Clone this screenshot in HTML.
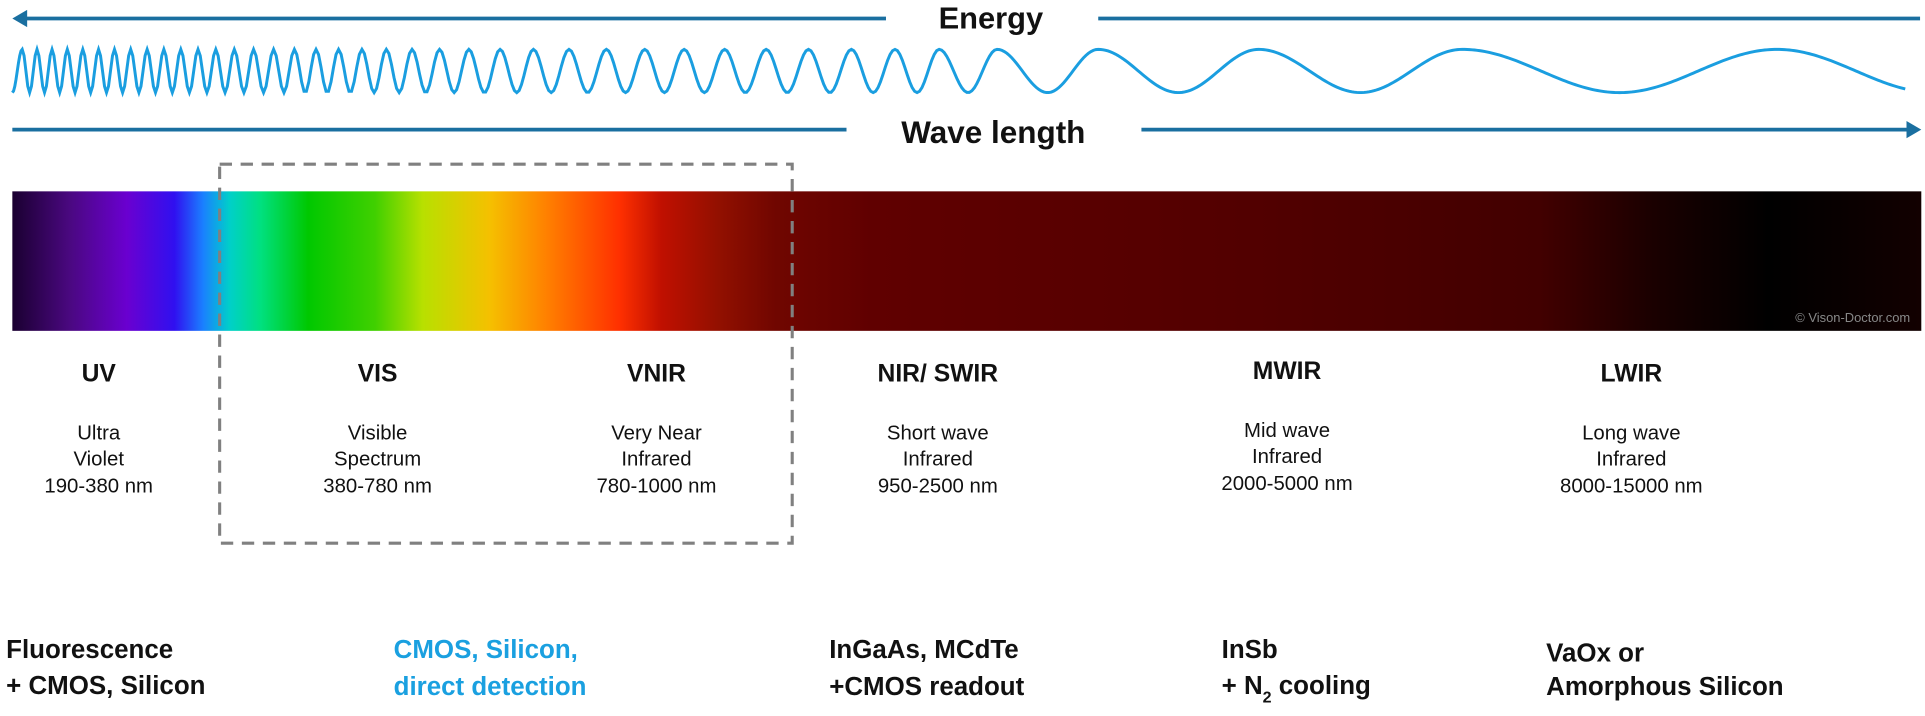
<!DOCTYPE html>
<html><head><meta charset="utf-8">
<style>
html,body{margin:0;padding:0;background:#fff;}
svg{display:block;}
text{font-family:"Liberation Sans",sans-serif;}
.h{font-weight:bold;font-size:20px;fill:#111;text-anchor:middle;}
.s{font-size:16.5px;fill:#111;text-anchor:middle;}
.b{font-weight:bold;font-size:21px;fill:#111;}
</style></head><body>
<svg width="1925" height="716" viewBox="0 0 1560 580" preserveAspectRatio="none" xmlns="http://www.w3.org/2000/svg">
<defs>
<linearGradient id="sp" x1="10" x2="1557" y1="0" y2="0" gradientUnits="userSpaceOnUse">
<stop offset="0" stop-color="#1a0030"/>
<stop offset="0.03" stop-color="#4a0880"/>
<stop offset="0.06" stop-color="#6a00d0"/>
<stop offset="0.085" stop-color="#3010f0"/>
<stop offset="0.1" stop-color="#1a80ff"/>
<stop offset="0.114" stop-color="#00d0c8"/>
<stop offset="0.13" stop-color="#00e080"/>
<stop offset="0.155" stop-color="#00c800"/>
<stop offset="0.19" stop-color="#40d000"/>
<stop offset="0.215" stop-color="#b8e000"/>
<stop offset="0.25" stop-color="#f5c000"/>
<stop offset="0.28" stop-color="#ff8000"/>
<stop offset="0.318" stop-color="#ff3000"/>
<stop offset="0.34" stop-color="#c01000"/>
<stop offset="0.37" stop-color="#921000"/>
<stop offset="0.4" stop-color="#700600"/>
<stop offset="0.45" stop-color="#600000"/>
<stop offset="0.65" stop-color="#520000"/>
<stop offset="0.8" stop-color="#420000"/>
<stop offset="0.86" stop-color="#1a0000"/>
<stop offset="0.92" stop-color="#000000"/>
<stop offset="1" stop-color="#120000"/>
</linearGradient>
</defs>
<line x1="18" y1="15" x2="718" y2="15" stroke="#1a6fa0" stroke-width="3"/>
<line x1="890" y1="15" x2="1556" y2="15" stroke="#1a6fa0" stroke-width="3"/>
<polygon points="10,15 22,8 22,22" fill="#1a6fa0"/>
<text x="803" y="23" font-weight="bold" font-size="25" text-anchor="middle" fill="#111">Energy</text>
<path id="wave" d="" fill="none" stroke="#1a9ee0" stroke-width="2.4"/>
<line x1="10" y1="105" x2="686" y2="105" stroke="#1a6fa0" stroke-width="3"/>
<line x1="925" y1="105" x2="1548" y2="105" stroke="#1a6fa0" stroke-width="3"/>
<polygon points="1557,105 1545,98 1545,112" fill="#1a6fa0"/>
<text x="805" y="116" font-weight="bold" font-size="25.5" text-anchor="middle" fill="#111">Wave length</text>
<rect x="10" y="155" width="1547" height="113" fill="url(#sp)"/>
<text x="1548" y="261" font-size="10.5" fill="#888" text-anchor="end">© Vison-Doctor.com</text>
<rect x="178" y="133" width="464" height="307" fill="none" stroke="#808080" stroke-width="2.5" stroke-dasharray="10 7"/>
<text class="h" x="80" y="309">UV</text>
<text class="s" x="80" y="356">Ultra</text><text class="s" x="80" y="377">Violet</text><text class="s" x="80" y="399">190-380 nm</text>
<text class="h" x="306" y="309">VIS</text>
<text class="s" x="306" y="356">Visible</text><text class="s" x="306" y="377">Spectrum</text><text class="s" x="306" y="399">380-780 nm</text>
<text class="h" x="532" y="309">VNIR</text>
<text class="s" x="532" y="356">Very Near</text><text class="s" x="532" y="377">Infrared</text><text class="s" x="532" y="399">780-1000 nm</text>
<text class="h" x="760" y="309">NIR/ SWIR</text>
<text class="s" x="760" y="356">Short wave</text><text class="s" x="760" y="377">Infrared</text><text class="s" x="760" y="399">950-2500 nm</text>
<text class="h" x="1043" y="307">MWIR</text>
<text class="s" x="1043" y="354">Mid wave</text><text class="s" x="1043" y="375">Infrared</text><text class="s" x="1043" y="397">2000-5000 nm</text>
<text class="h" x="1322" y="309">LWIR</text>
<text class="s" x="1322" y="356">Long wave</text><text class="s" x="1322" y="377">Infrared</text><text class="s" x="1322" y="399">8000-15000 nm</text>
<text class="b" x="5" y="533">Fluorescence</text>
<text class="b" x="5" y="562">+ CMOS, Silicon</text>
<text class="b" x="319" y="533" style="fill:#1aa0e0">CMOS, Silicon,</text>
<text class="b" x="319" y="563" style="fill:#1aa0e0">direct detection</text>
<text class="b" x="672" y="533">InGaAs, MCdTe</text>
<text class="b" x="672" y="563">+CMOS readout</text>
<text class="b" x="990" y="533">InSb</text>
<text class="b" x="990" y="562">+ N<tspan font-size="13" dy="7">2</tspan><tspan dy="-7"> cooling</tspan></text>
<text class="b" x="1253" y="536">VaOx or</text>
<text class="b" x="1253" y="563">Amorphous Silicon</text>
</svg>
<script>
(function(){
  var top=40, bot=75, mid=(top+bot)/2, A=(bot-top)/2;
  function per(x){
    var pts=[[18,12],[150,14],[300,20],[450,30],[600,34],[808,37]];
    for(var i=0;i<pts.length-1;i++){
      if(x<=pts[i+1][0]){var t=(x-pts[i][0])/(pts[i+1][0]-pts[i][0]);return pts[i][1]+t*(pts[i+1][1]-pts[i][1]);}
    }
    return 37;
  }
  var peaks=[];
  var x=18;
  while(x<790){peaks.push(x);x+=per(x);}
  peaks.push(808,890,1020,1185,1440);
  var d="M10,"+bot;
  var allp=[{x:10,ph:Math.PI}];
  for(var i=0;i<peaks.length;i++) allp.push({x:peaks[i],ph:2*Math.PI*(i+1)});
  allp.push({x:1568,ph:2*Math.PI*(peaks.length)+Math.PI});
  var out=[];
  for(var i=0;i<allp.length-1;i++){
    var a=allp[i],b=allp[i+1];
    var n=Math.max(8,Math.round((b.x-a.x)/2));
    for(var k=1;k<=n;k++){
      var xx=a.x+(b.x-a.x)*k/n;
      if(xx>1545) break;
      var ph=a.ph+(b.ph-a.ph)*k/n;
      out.push(xx.toFixed(2)+","+(mid-A*Math.cos(ph)).toFixed(2));
    }
  }
  d+=" L"+out.join(" L");
  document.getElementById("wave").setAttribute("d",d);
})();
</script>
</body></html>
